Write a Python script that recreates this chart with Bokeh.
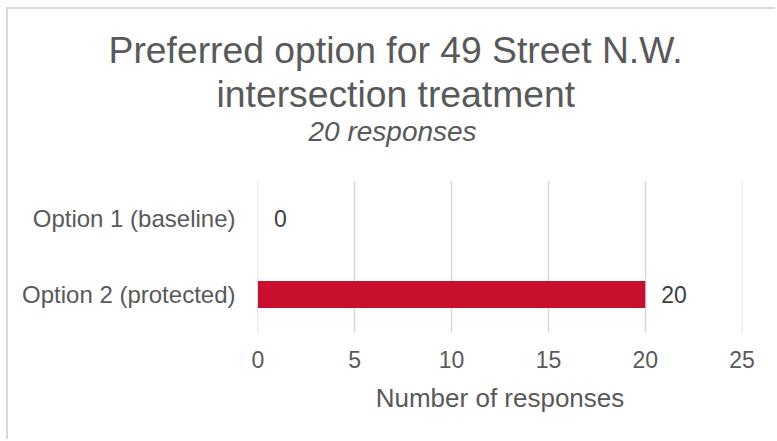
from bokeh.plotting import figure
from bokeh.models import FactorRange, Range1d, Title, LabelSet, ColumnDataSource, FixedTicker
from bokeh.core.properties import value
from bokeh.embed import file_html
from bokeh.resources import INLINE

# ---- data ----
categories = ["Option 1 (baseline)", "Option 2 (protected)"]
responses = [0, 20]
x_ticks = [0, 5, 10, 15, 20, 25]
title_lines = ["Preferred option for 49 Street N.W.", "intersection treatment"]
subtitle = "20 responses"
x_label = "Number of responses"

FONT = "Liberation Sans"
GREY = "#595959"

source = ColumnDataSource(dict(cat=categories, val=responses,
                               lbl=[str(v) for v in responses]))

p = figure(width=769, height=432,
           y_range=FactorRange(factors=categories[::-1], range_padding=0),
           x_range=Range1d(-0.02, 25.02),
           output_backend="svg", toolbar_location=None,
           min_border_left=249, min_border_right=35,
           min_border_top=171, min_border_bottom=109)
p.styles = {"margin-left": "6px", "margin-top": "7px",
            "border-left": "2px solid #d9d9d9", "border-top": "2px solid #d9d9d9"}

p.hbar(y="cat", right="val", left=0, height=0.355, fill_color="#C8102E",
       line_color=None, source=source)

labels = LabelSet(x="val", y="cat", text="lbl", source=source, x_offset=16,
                  text_baseline="middle", text_align="left",
                  text_font_size="23px", text_color="#404040", text_font=value(FONT))
p.add_layout(labels)

# axes
p.xaxis.ticker = FixedTicker(ticks=x_ticks)
p.xgrid.ticker = FixedTicker(ticks=x_ticks)
for ax in (p.xaxis[0], p.yaxis[0]):
    ax.axis_line_color = None
    ax.major_tick_line_color = None
    ax.minor_tick_line_color = None
    ax.major_label_text_font_size = "23px"
    ax.major_label_text_color = GREY
    ax.major_label_text_font = FONT
p.xaxis.major_label_standoff = 12
p.yaxis.major_label_standoff = 16
p.yaxis.major_label_text_font_size = "24px"
p.xaxis.axis_label = x_label
p.xaxis.axis_label_text_font_size = "26px"
p.xaxis.axis_label_text_font_style = "normal"
p.xaxis.axis_label_text_color = GREY
p.xaxis.axis_label_text_font = FONT
p.xaxis.axis_label_standoff = 12

p.ygrid.grid_line_color = None
p.xgrid.grid_line_color = "#d9d9d9"
p.xgrid.grid_line_width = 1.5
p.outline_line_color = None

# titles: added innermost first (blank spacer, subtitle), then outward
p.add_layout(Title(text=" ", align="left", standoff=0,
                   text_font_size="26px", text_font=FONT), "above")
p.add_layout(Title(text=subtitle, align="left", offset=51, standoff=0,
                   vertical_align="top",
                   text_font_size="28px", text_font_style="italic",
                   text_color=GREY, text_font=FONT), "above")
p.add_layout(Title(text=title_lines[1], align="left", offset=-41, standoff=1,
                   text_font_size="37.3px", text_font_style="normal",
                   text_color=GREY, text_font=FONT), "above")
p.add_layout(Title(text=title_lines[0], align="left", offset=-149, standoff=0,
                   text_font_size="37.3px", text_font_style="normal",
                   text_color=GREY, text_font=FONT), "above")

open("out.html", "w").write(file_html(p, INLINE))
